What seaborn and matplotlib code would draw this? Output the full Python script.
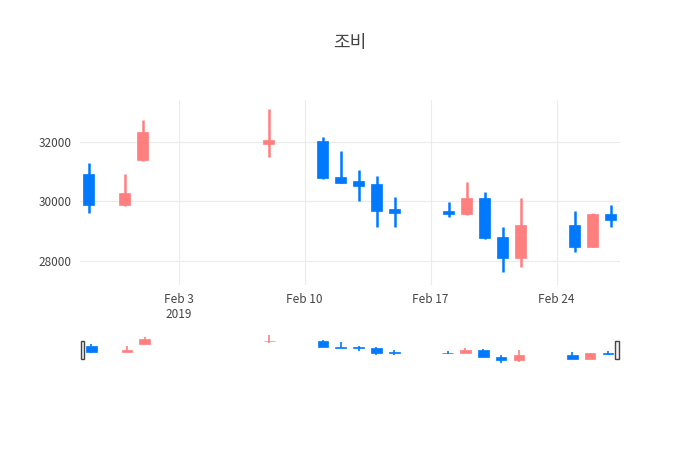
import matplotlib
matplotlib.use("Agg")
import matplotlib.pyplot as plt
import matplotlib.dates as mdates
import seaborn as sns
import pandas as pd
import numpy as np

dates = ["2019-01-29","2019-01-31","2019-02-01","2019-02-08","2019-02-11","2019-02-12",
         "2019-02-13","2019-02-14","2019-02-15","2019-02-18","2019-02-19","2019-02-20",
         "2019-02-21","2019-02-22","2019-02-25","2019-02-26","2019-02-27"]
opens  = [30930,29870,31370,31930,32020,30820,30680,30570,29730,29670,29570,30120,28820,28110,29220,28480,29570]
closes = [29870,30270,32320,32050,30770,30620,30520,29670,29620,29560,30120,28770,28110,29220,28480,29570,29370]
highs  = [31300,30930,32730,33100,32150,31700,31050,30850,30150,29990,30650,30320,29130,30100,29690,29620,29890]
lows   = [29600,29850,31350,31470,30750,30600,30000,29150,29150,29460,29550,28750,27640,27810,28290,28480,29150]

df = pd.DataFrame({"date": pd.to_datetime(dates), "open": opens, "close": closes,
                   "high": highs, "low": lows})
df["x"] = mdates.date2num(df["date"])
UP, DOWN = "#ff7f7f", "#0079ff"
df["color"] = np.where(df["close"] >= df["open"], UP, DOWN)

sns.set_theme(style="white")
plt.rcParams['font.family'] = ['Noto Sans CJK KR', 'Open Sans', 'DejaVu Sans']

fig = plt.figure(figsize=(7, 4.5), dpi=100)
ax = fig.add_axes([0.114, 0.367, 0.771, 0.411])
rs = fig.add_axes([0.114, 0.18, 0.771, 0.085])

xmin = mdates.date2num(pd.Timestamp("2019-01-28 12:00"))
xmax = mdates.date2num(pd.Timestamp("2019-02-27 12:00"))

def draw(a, lw, w):
    for _, r in df.iterrows():
        a.vlines(r["x"], r["low"], r["high"], color=r["color"], lw=lw, zorder=2)
        lo, hi = min(r["open"], r["close"]), max(r["open"], r["close"])
        a.bar(r["x"], max(hi - lo, 40), bottom=lo, width=w, color=r["color"],
              edgecolor=r["color"], lw=0.5, zorder=3)

draw(ax, 1.8, 0.6)
ax.set_xlim(xmin, xmax)
ax.set_ylim(27200, 33400)
ax.set_yticks([28000, 30000, 32000])
ax.set_yticklabels(["28000", "30000", "32000"])
ticks = mdates.date2num(pd.to_datetime(["2019-02-03","2019-02-10","2019-02-17","2019-02-24"]))
ax.set_xticks(ticks)
ax.set_xticklabels(["Feb 3\n2019", "Feb 10", "Feb 17", "Feb 24"])
ax.grid(True, color="#ebebeb", lw=0.8, zorder=0)
for s in ax.spines.values():
    s.set_visible(False)
ax.tick_params(axis="both", length=0, labelsize=8.5, colors="#444444", pad=6)

draw(rs, 1.2, 0.6)
rs.set_xlim(xmin - 0.15, xmax + 0.15)
rs.set_ylim(26400, 34000)
rs.set_xticks([]); rs.set_yticks([])
for s in rs.spines.values():
    s.set_visible(False)
for hx in [xmin, xmax]:
    rs.add_patch(plt.Rectangle((hx - 0.1, 28400), 0.2, 3600, facecolor="#f2f2f2",
                               edgecolor="#444444", lw=1, zorder=5, clip_on=False))

fig.text(0.5, 0.905, "조비", ha="center", va="center", fontsize=13, color="#444444")
fig.savefig("out.png", dpi=100, facecolor="white")
